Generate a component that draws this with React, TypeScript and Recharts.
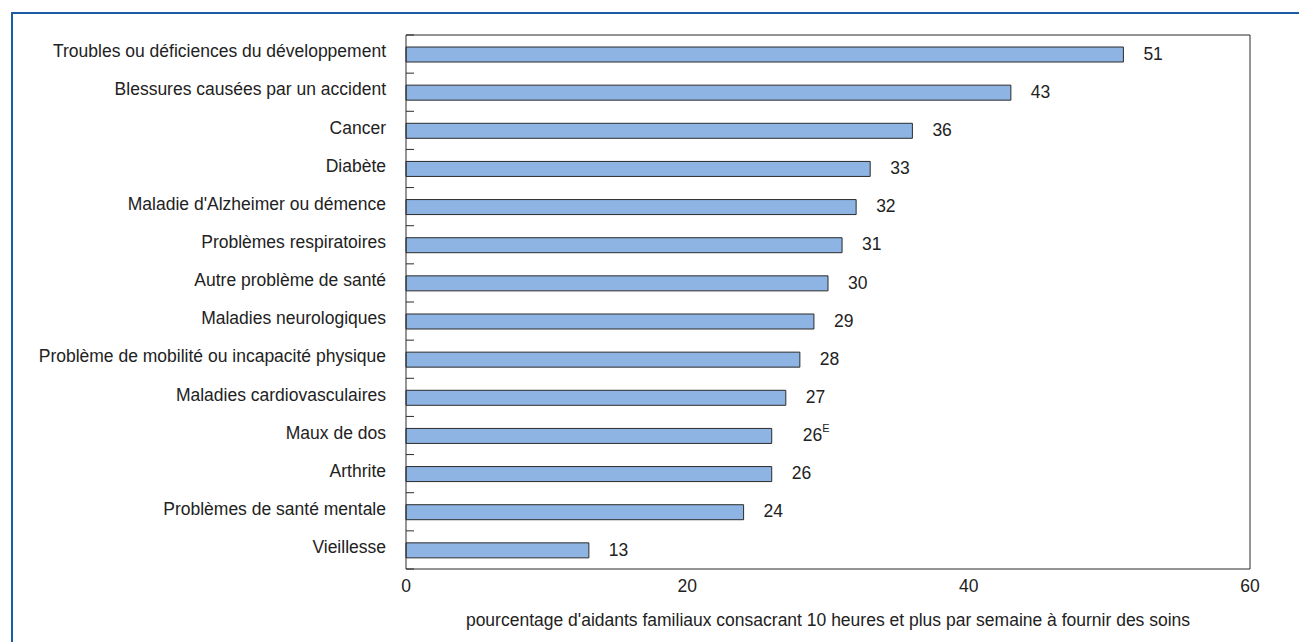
import { Bar, BarChart, CartesianGrid, LabelList, XAxis, YAxis } from 'recharts';

const categories = [
  'Troubles ou déficiences du développement',
  'Blessures causées par un accident',
  'Cancer',
  'Diabète',
  "Maladie d'Alzheimer ou démence",
  'Problèmes respiratoires',
  'Autre problème de santé',
  'Maladies neurologiques',
  'Problème de mobilité ou incapacité physique',
  'Maladies cardiovasculaires',
  'Maux de dos',
  'Arthrite',
  'Problèmes de santé mentale',
  'Vieillesse',
];
const values = [51, 43, 36, 33, 32, 31, 30, 29, 28, 27, 26, 26, 24, 13];
const notes = ['', '', '', '', '', '', '', '', '', '', 'E', '', '', ''];
const xTicks = [0, 20, 40, 60];
const xTitle =
  "pourcentage d'aidants familiaux consacrant 10 heures et plus par semaine à fournir des soins";

const data = categories.map((name, i) => ({ name, value: values[i], note: notes[i] }));

const W = 1299;
const H = 642;
const margin = { top: 35, right: 49, bottom: 0, left: 0 };
const axisW = 406;
const xAxisH = 73;
const band = (H - margin.top - margin.bottom - xAxisH) / categories.length;
const font = "'Liberation Sans', Arial, sans-serif";
const fs = 17.5;
const ink = '#222';
const line = '#2b2b2b';

function CatTick(props: any) {
  const { x, y, payload, index } = props;
  const ax = x + 20;
  return (
    <g>
      <text x={x} y={y - 3} dy="0.355em" textAnchor="end" fill={ink} fontSize={fs} fontFamily={font}>
        {payload.value}
      </text>
      <line x1={ax} x2={ax + 8} y1={y - band / 2} y2={y - band / 2} stroke={line} />
      {index === categories.length - 1 && (
        <line x1={ax} x2={ax + 8} y1={y + band / 2} y2={y + band / 2} stroke={line} />
      )}
    </g>
  );
}

function ValueLabel(props: any) {
  const { x, y, width, height, value, index } = props;
  const note = notes[index];
  // noted labels sit a little further out in the original
  const gap = note ? 31 : 20;
  return (
    <text x={x + width + gap} y={y + height / 2 - 1} dy="0.355em" fill={ink} fontSize={fs} fontFamily={font}>
      {value}
      {note && (
        <tspan fontSize={11} dy="-0.8em">
          {note}
        </tspan>
      )}
    </text>
  );
}

export default function App() {
  return (
    <div style={{ position: 'relative', width: W, height: H, background: '#fff' }}>
      <style>{'body{margin:0}'}</style>
      <div
        style={{
          position: 'absolute',
          left: 11,
          top: 12,
          right: 0,
          bottom: 0,
          borderLeft: '2px solid #1b5ca6',
          borderTop: '2px solid #1b5ca6',
        }}
      />
      <div style={{ position: 'absolute', left: 0, top: 0 }}>
        <BarChart width={W} height={H} data={data} layout="vertical" margin={margin}>
          <CartesianGrid
            stroke={line}
            strokeDasharray=""
            horizontalCoordinatesGenerator={({ offset }: any) => [offset.top]}
            verticalCoordinatesGenerator={({ offset }: any) => [offset.left + offset.width]}
          />
          <XAxis
            type="number"
            domain={[0, 60]}
            ticks={xTicks}
            height={xAxisH}
            tickLine={false}
            tickSize={0}
            tickMargin={11}
            axisLine={{ stroke: line }}
            tick={{ fill: ink, fontSize: fs, fontFamily: font }}
            label={{
              value: xTitle,
              position: 'insideBottom',
              offset: 16,
              fill: ink,
              fontSize: fs,
              fontFamily: font,
            }}
          />
          <YAxis
            type="category"
            dataKey="name"
            width={axisW}
            tickLine={false}
            tickSize={0}
            tickMargin={20}
            interval={0}
            axisLine={{ stroke: line }}
            tick={<CatTick />}
          />
          <Bar dataKey="value" fill="#8db4e2" stroke="#2b2b2b" strokeWidth={1} barSize={15} isAnimationActive={false}>
            <LabelList dataKey="value" content={<ValueLabel />} />
          </Bar>
        </BarChart>
      </div>
    </div>
  );
}
